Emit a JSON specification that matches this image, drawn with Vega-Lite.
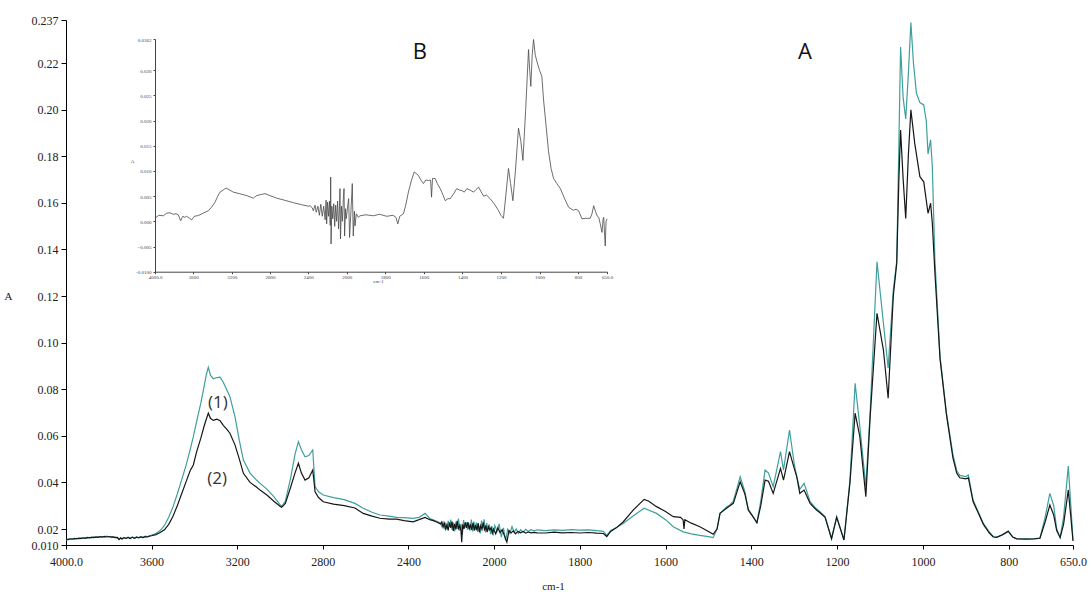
{
  "$schema": "https://vega.github.io/schema/vega-lite/v6.json",
  "width": 1007,
  "height": 525,
  "autosize": {"type": "none"},
  "padding": {"left": 66, "top": 20, "right": 18, "bottom": 47},
  "background": "white",
  "config": {
    "view": {"stroke": null},
    "axis": {"grid": false, "domainColor": "#000", "tickColor": "#000", "labelColor": "#222", "titleColor": "#222", "labelFont": "Liberation Serif", "titleFont": "Liberation Serif", "titleFontWeight": "normal", "labelFlush": false, "labelOverlap": false}
  },
  "datasets": {
    "spectra": [
      {"s":"(1)","wn":4000,"A":0.0132},{"s":"(1)","wn":3990,"A":0.0138},{"s":"(1)","wn":3980,"A":0.0135},{"s":"(1)","wn":3970,"A":0.014},{"s":"(1)","wn":3960,"A":0.0137},{"s":"(1)","wn":3950,"A":0.0142},{"s":"(1)","wn":3940,"A":0.0139},{"s":"(1)","wn":3930,"A":0.0144},{"s":"(1)","wn":3920,"A":0.0141},{"s":"(1)","wn":3910,"A":0.0146},{"s":"(1)","wn":3900,"A":0.0143},{"s":"(1)","wn":3890,"A":0.0148},{"s":"(1)","wn":3880,"A":0.0145},{"s":"(1)","wn":3870,"A":0.015},{"s":"(1)","wn":3860,"A":0.0146},{"s":"(1)","wn":3850,"A":0.0152},{"s":"(1)","wn":3840,"A":0.0148},{"s":"(1)","wn":3830,"A":0.0153},{"s":"(1)","wn":3820,"A":0.0149},{"s":"(1)","wn":3810,"A":0.0155},{"s":"(1)","wn":3800,"A":0.0151},{"s":"(1)","wn":3790,"A":0.0153},{"s":"(1)","wn":3780,"A":0.0149},{"s":"(1)","wn":3770,"A":0.015},{"s":"(1)","wn":3760,"A":0.0145},{"s":"(1)","wn":3752,"A":0.0136},{"s":"(1)","wn":3745,"A":0.0146},{"s":"(1)","wn":3738,"A":0.0139},{"s":"(1)","wn":3730,"A":0.0147},{"s":"(1)","wn":3720,"A":0.014},{"s":"(1)","wn":3710,"A":0.0149},{"s":"(1)","wn":3700,"A":0.0142},{"s":"(1)","wn":3690,"A":0.015},{"s":"(1)","wn":3680,"A":0.0143},{"s":"(1)","wn":3670,"A":0.0151},{"s":"(1)","wn":3660,"A":0.0146},{"s":"(1)","wn":3650,"A":0.0153},{"s":"(1)","wn":3640,"A":0.0147},{"s":"(1)","wn":3630,"A":0.0155},{"s":"(1)","wn":3620,"A":0.0152},{"s":"(1)","wn":3610,"A":0.0158},{"s":"(1)","wn":3600,"A":0.0162},{"s":"(1)","wn":3580,"A":0.0172},{"s":"(1)","wn":3560,"A":0.019},{"s":"(1)","wn":3540,"A":0.0215},{"s":"(1)","wn":3520,"A":0.025},{"s":"(1)","wn":3500,"A":0.0295},{"s":"(1)","wn":3480,"A":0.035},{"s":"(1)","wn":3460,"A":0.041},{"s":"(1)","wn":3440,"A":0.047},{"s":"(1)","wn":3420,"A":0.054},{"s":"(1)","wn":3405,"A":0.0596},{"s":"(1)","wn":3390,"A":0.066},{"s":"(1)","wn":3370,"A":0.074},{"s":"(1)","wn":3355,"A":0.081},{"s":"(1)","wn":3345,"A":0.086},{"s":"(1)","wn":3335,"A":0.0894},{"s":"(1)","wn":3325,"A":0.086},{"s":"(1)","wn":3312,"A":0.0845},{"s":"(1)","wn":3295,"A":0.085},{"s":"(1)","wn":3280,"A":0.0852},{"s":"(1)","wn":3265,"A":0.083},{"s":"(1)","wn":3250,"A":0.08},{"s":"(1)","wn":3234,"A":0.0768},{"s":"(1)","wn":3210,"A":0.068},{"s":"(1)","wn":3190,"A":0.058},{"s":"(1)","wn":3171,"A":0.0496},{"s":"(1)","wn":3140,"A":0.044},{"s":"(1)","wn":3110,"A":0.041},{"s":"(1)","wn":3093,"A":0.0396},{"s":"(1)","wn":3060,"A":0.037},{"s":"(1)","wn":3030,"A":0.034},{"s":"(1)","wn":3000,"A":0.0305},{"s":"(1)","wn":2992,"A":0.0296},{"s":"(1)","wn":2975,"A":0.032},{"s":"(1)","wn":2950,"A":0.042},{"s":"(1)","wn":2930,"A":0.052},{"s":"(1)","wn":2914,"A":0.0575},{"s":"(1)","wn":2900,"A":0.054},{"s":"(1)","wn":2883,"A":0.051},{"s":"(1)","wn":2865,"A":0.0515},{"s":"(1)","wn":2847,"A":0.0539},{"s":"(1)","wn":2836,"A":0.0382},{"s":"(1)","wn":2820,"A":0.036},{"s":"(1)","wn":2798,"A":0.0346},{"s":"(1)","wn":2750,"A":0.0335},{"s":"(1)","wn":2700,"A":0.0326},{"s":"(1)","wn":2650,"A":0.031},{"s":"(1)","wn":2611,"A":0.0289},{"s":"(1)","wn":2570,"A":0.0272},{"s":"(1)","wn":2533,"A":0.026},{"s":"(1)","wn":2490,"A":0.0255},{"s":"(1)","wn":2455,"A":0.025},{"s":"(1)","wn":2420,"A":0.0249},{"s":"(1)","wn":2378,"A":0.0246},{"s":"(1)","wn":2350,"A":0.025},{"s":"(1)","wn":2322,"A":0.0267},{"s":"(1)","wn":2300,"A":0.0245},{"s":"(1)","wn":2284,"A":0.0239},{"s":"(1)","wn":2265,"A":0.0232},
      {"s":"(1)","wn":2250,"A":0.0225},{"s":"(1)","wn":2244,"A":0.0212},{"s":"(1)","wn":2238,"A":0.0228},{"s":"(1)","wn":2232,"A":0.0205},{"s":"(1)","wn":2226,"A":0.0222},{"s":"(1)","wn":2220,"A":0.0198},{"s":"(1)","wn":2214,"A":0.0235},{"s":"(1)","wn":2208,"A":0.021},{"s":"(1)","wn":2202,"A":0.024},{"s":"(1)","wn":2196,"A":0.0195},{"s":"(1)","wn":2190,"A":0.0228},{"s":"(1)","wn":2184,"A":0.0185},{"s":"(1)","wn":2178,"A":0.0232},{"s":"(1)","wn":2172,"A":0.02},{"s":"(1)","wn":2166,"A":0.0245},{"s":"(1)","wn":2160,"A":0.019},{"s":"(1)","wn":2154,"A":0.0222},{"s":"(1)","wn":2148,"A":0.0165},{"s":"(1)","wn":2142,"A":0.0238},{"s":"(1)","wn":2136,"A":0.0205},{"s":"(1)","wn":2130,"A":0.023},{"s":"(1)","wn":2124,"A":0.0196},{"s":"(1)","wn":2118,"A":0.0226},{"s":"(1)","wn":2112,"A":0.019},{"s":"(1)","wn":2106,"A":0.024},{"s":"(1)","wn":2100,"A":0.0185},{"s":"(1)","wn":2094,"A":0.0232},{"s":"(1)","wn":2088,"A":0.0195},{"s":"(1)","wn":2082,"A":0.0228},{"s":"(1)","wn":2076,"A":0.0182},{"s":"(1)","wn":2070,"A":0.0215},{"s":"(1)","wn":2064,"A":0.0172},{"s":"(1)","wn":2058,"A":0.0236},{"s":"(1)","wn":2052,"A":0.0205},{"s":"(1)","wn":2046,"A":0.0242},{"s":"(1)","wn":2040,"A":0.0178},{"s":"(1)","wn":2034,"A":0.0225},{"s":"(1)","wn":2028,"A":0.019},{"s":"(1)","wn":2022,"A":0.022},{"s":"(1)","wn":2016,"A":0.0168},{"s":"(1)","wn":2010,"A":0.0212},{"s":"(1)","wn":2004,"A":0.016},{"s":"(1)","wn":1998,"A":0.0215},{"s":"(1)","wn":1993,"A":0.0185},{"s":"(1)","wn":1988,"A":0.0222},{"s":"(1)","wn":1983,"A":0.015},{"s":"(1)","wn":1978,"A":0.0205},{"s":"(1)","wn":1973,"A":0.0128},{"s":"(1)","wn":1968,"A":0.0198},{"s":"(1)","wn":1963,"A":0.0172},{"s":"(1)","wn":1958,"A":0.021},{"s":"(1)","wn":1953,"A":0.018},{"s":"(1)","wn":1948,"A":0.02},{"s":"(1)","wn":1943,"A":0.0172},{"s":"(1)","wn":1938,"A":0.0195},{"s":"(1)","wn":1932,"A":0.018},{"s":"(1)","wn":1926,"A":0.0198},{"s":"(1)","wn":1920,"A":0.0185},{"s":"(1)","wn":1914,"A":0.0196},{"s":"(1)","wn":1906,"A":0.0188},{"s":"(1)","wn":1900,"A":0.0195},
      {"s":"(1)","wn":1880,"A":0.019},{"s":"(1)","wn":1860,"A":0.0195},{"s":"(1)","wn":1840,"A":0.0192},{"s":"(1)","wn":1820,"A":0.0196},{"s":"(1)","wn":1800,"A":0.0193},{"s":"(1)","wn":1780,"A":0.0195},{"s":"(1)","wn":1760,"A":0.019},{"s":"(1)","wn":1745,"A":0.0185},{"s":"(1)","wn":1737,"A":0.016},{"s":"(1)","wn":1728,"A":0.019},{"s":"(1)","wn":1715,"A":0.0205},{"s":"(1)","wn":1699,"A":0.0224},{"s":"(1)","wn":1675,"A":0.0257},{"s":"(1)","wn":1650,"A":0.0289},{"s":"(1)","wn":1621,"A":0.0267},{"s":"(1)","wn":1600,"A":0.024},{"s":"(1)","wn":1582,"A":0.021},{"s":"(1)","wn":1559,"A":0.0182},{"s":"(1)","wn":1540,"A":0.017},{"s":"(1)","wn":1520,"A":0.016},{"s":"(1)","wn":1500,"A":0.0152},{"s":"(1)","wn":1489,"A":0.0146},{"s":"(1)","wn":1480,"A":0.02},{"s":"(1)","wn":1473,"A":0.0267},{"s":"(1)","wn":1457,"A":0.0296},{"s":"(1)","wn":1450,"A":0.0303},{"s":"(1)","wn":1442,"A":0.032},{"s":"(1)","wn":1426,"A":0.0424},{"s":"(1)","wn":1415,"A":0.036},{"s":"(1)","wn":1407,"A":0.0282},{"s":"(1)","wn":1395,"A":0.025},{"s":"(1)","wn":1387,"A":0.0227},{"s":"(1)","wn":1378,"A":0.032},{"s":"(1)","wn":1368,"A":0.0453},{"s":"(1)","wn":1360,"A":0.044},{"s":"(1)","wn":1349,"A":0.0382},{"s":"(1)","wn":1332,"A":0.0532},{"s":"(1)","wn":1325,"A":0.0453},{"s":"(1)","wn":1311,"A":0.0625},{"s":"(1)","wn":1300,"A":0.048},{"s":"(1)","wn":1294,"A":0.0424},{"s":"(1)","wn":1287,"A":0.037},{"s":"(1)","wn":1277,"A":0.0396},{"s":"(1)","wn":1263,"A":0.0317},{"s":"(1)","wn":1250,"A":0.029},{"s":"(1)","wn":1240,"A":0.0274},{"s":"(1)","wn":1228,"A":0.0253},{"s":"(1)","wn":1213,"A":0.0139},{"s":"(1)","wn":1201,"A":0.0253},{"s":"(1)","wn":1184,"A":0.0131},{"s":"(1)","wn":1170,"A":0.041},{"s":"(1)","wn":1158,"A":0.0825},{"s":"(1)","wn":1147,"A":0.0639},{"s":"(1)","wn":1133,"A":0.0382},{"s":"(1)","wn":1123,"A":0.07},{"s":"(1)","wn":1107,"A":0.1347},{"s":"(1)","wn":1092,"A":0.1083},{"s":"(1)","wn":1081,"A":0.089},{"s":"(1)","wn":1069,"A":0.1226},{"s":"(1)","wn":1061,"A":0.135},{"s":"(1)","wn":1056,"A":0.185},{"s":"(1)","wn":1052,"A":0.2263},{"s":"(1)","wn":1046,"A":0.205},{"s":"(1)","wn":1040,"A":0.196},{"s":"(1)","wn":1034,"A":0.215},{"s":"(1)","wn":1028,"A":0.236},{"s":"(1)","wn":1022,"A":0.22},{"s":"(1)","wn":1015,"A":0.207},{"s":"(1)","wn":1007,"A":0.203},{"s":"(1)","wn":998,"A":0.202},{"s":"(1)","wn":992,"A":0.195},{"s":"(1)","wn":988,"A":0.181},{"s":"(1)","wn":982,"A":0.187},{"s":"(1)","wn":978,"A":0.1755},{"s":"(1)","wn":972,"A":0.1355},{"s":"(1)","wn":960,"A":0.094},{"s":"(1)","wn":945,"A":0.0697},{"s":"(1)","wn":930,"A":0.052},{"s":"(1)","wn":921,"A":0.045},{"s":"(1)","wn":914,"A":0.043},{"s":"(1)","wn":900,"A":0.0425},{"s":"(1)","wn":894,"A":0.0432},{"s":"(1)","wn":883,"A":0.0324},{"s":"(1)","wn":870,"A":0.027},{"s":"(1)","wn":859,"A":0.0224},{"s":"(1)","wn":845,"A":0.018},{"s":"(1)","wn":836,"A":0.0153},{"s":"(1)","wn":828,"A":0.015},{"s":"(1)","wn":815,"A":0.0165},{"s":"(1)","wn":801,"A":0.0188},{"s":"(1)","wn":790,"A":0.015},{"s":"(1)","wn":781,"A":0.0139},{"s":"(1)","wn":760,"A":0.0138},{"s":"(1)","wn":740,"A":0.0139},{"s":"(1)","wn":727,"A":0.0145},{"s":"(1)","wn":715,"A":0.025},{"s":"(1)","wn":704,"A":0.0353},{"s":"(1)","wn":695,"A":0.03},{"s":"(1)","wn":688,"A":0.02},{"s":"(1)","wn":680,"A":0.0146},{"s":"(1)","wn":672,"A":0.025},{"s":"(1)","wn":661,"A":0.047},{"s":"(1)","wn":655,"A":0.03},{"s":"(1)","wn":650,"A":0.013},
      {"s":"(2)","wn":4000,"A":0.0135},{"s":"(2)","wn":3990,"A":0.0133},{"s":"(2)","wn":3980,"A":0.0139},{"s":"(2)","wn":3970,"A":0.0136},{"s":"(2)","wn":3960,"A":0.0141},{"s":"(2)","wn":3950,"A":0.0138},{"s":"(2)","wn":3940,"A":0.0143},{"s":"(2)","wn":3930,"A":0.014},{"s":"(2)","wn":3920,"A":0.0145},{"s":"(2)","wn":3910,"A":0.0142},{"s":"(2)","wn":3900,"A":0.0147},{"s":"(2)","wn":3890,"A":0.0144},{"s":"(2)","wn":3880,"A":0.0149},{"s":"(2)","wn":3870,"A":0.0146},{"s":"(2)","wn":3860,"A":0.0151},{"s":"(2)","wn":3850,"A":0.0148},{"s":"(2)","wn":3840,"A":0.0153},{"s":"(2)","wn":3830,"A":0.0149},{"s":"(2)","wn":3820,"A":0.0154},{"s":"(2)","wn":3810,"A":0.015},{"s":"(2)","wn":3800,"A":0.0153},{"s":"(2)","wn":3790,"A":0.0149},{"s":"(2)","wn":3780,"A":0.0151},{"s":"(2)","wn":3770,"A":0.0146},{"s":"(2)","wn":3760,"A":0.0148},{"s":"(2)","wn":3752,"A":0.0134},{"s":"(2)","wn":3745,"A":0.0143},{"s":"(2)","wn":3738,"A":0.0137},{"s":"(2)","wn":3730,"A":0.0145},{"s":"(2)","wn":3720,"A":0.0141},{"s":"(2)","wn":3710,"A":0.0147},{"s":"(2)","wn":3700,"A":0.014},{"s":"(2)","wn":3690,"A":0.0148},{"s":"(2)","wn":3680,"A":0.0142},{"s":"(2)","wn":3670,"A":0.0149},{"s":"(2)","wn":3660,"A":0.0144},{"s":"(2)","wn":3650,"A":0.0151},{"s":"(2)","wn":3640,"A":0.0146},{"s":"(2)","wn":3630,"A":0.0152},{"s":"(2)","wn":3620,"A":0.015},{"s":"(2)","wn":3610,"A":0.0155},{"s":"(2)","wn":3600,"A":0.0158},{"s":"(2)","wn":3580,"A":0.0165},{"s":"(2)","wn":3560,"A":0.0178},{"s":"(2)","wn":3540,"A":0.0195},{"s":"(2)","wn":3520,"A":0.022},{"s":"(2)","wn":3500,"A":0.0255},{"s":"(2)","wn":3480,"A":0.03},{"s":"(2)","wn":3460,"A":0.035},{"s":"(2)","wn":3440,"A":0.04},{"s":"(2)","wn":3420,"A":0.045},{"s":"(2)","wn":3405,"A":0.0475},{"s":"(2)","wn":3390,"A":0.053},{"s":"(2)","wn":3370,"A":0.059},{"s":"(2)","wn":3355,"A":0.064},{"s":"(2)","wn":3345,"A":0.067},{"s":"(2)","wn":3335,"A":0.0697},{"s":"(2)","wn":3325,"A":0.0675},{"s":"(2)","wn":3312,"A":0.0666},{"s":"(2)","wn":3295,"A":0.0671},{"s":"(2)","wn":3280,"A":0.0665},{"s":"(2)","wn":3265,"A":0.0645},{"s":"(2)","wn":3250,"A":0.063},{"s":"(2)","wn":3234,"A":0.0611},{"s":"(2)","wn":3210,"A":0.056},{"s":"(2)","wn":3190,"A":0.05},{"s":"(2)","wn":3171,"A":0.0439},{"s":"(2)","wn":3140,"A":0.04},{"s":"(2)","wn":3110,"A":0.038},{"s":"(2)","wn":3093,"A":0.0367},{"s":"(2)","wn":3060,"A":0.0345},{"s":"(2)","wn":3030,"A":0.032},{"s":"(2)","wn":3000,"A":0.0298},{"s":"(2)","wn":2992,"A":0.0293},{"s":"(2)","wn":2975,"A":0.031},{"s":"(2)","wn":2950,"A":0.038},{"s":"(2)","wn":2930,"A":0.044},{"s":"(2)","wn":2914,"A":0.0482},{"s":"(2)","wn":2900,"A":0.044},{"s":"(2)","wn":2883,"A":0.041},{"s":"(2)","wn":2865,"A":0.042},{"s":"(2)","wn":2847,"A":0.0453},{"s":"(2)","wn":2836,"A":0.036},{"s":"(2)","wn":2820,"A":0.0335},{"s":"(2)","wn":2798,"A":0.0317},{"s":"(2)","wn":2750,"A":0.0307},{"s":"(2)","wn":2700,"A":0.03},{"s":"(2)","wn":2650,"A":0.029},{"s":"(2)","wn":2611,"A":0.0267},{"s":"(2)","wn":2570,"A":0.0255},{"s":"(2)","wn":2533,"A":0.0246},{"s":"(2)","wn":2490,"A":0.0242},{"s":"(2)","wn":2455,"A":0.0242},{"s":"(2)","wn":2420,"A":0.0236},{"s":"(2)","wn":2378,"A":0.0231},{"s":"(2)","wn":2350,"A":0.024},{"s":"(2)","wn":2322,"A":0.025},{"s":"(2)","wn":2300,"A":0.024},{"s":"(2)","wn":2284,"A":0.0236},{"s":"(2)","wn":2265,"A":0.0229},
      {"s":"(2)","wn":2250,"A":0.0222},{"s":"(2)","wn":2244,"A":0.023},{"s":"(2)","wn":2238,"A":0.0208},{"s":"(2)","wn":2232,"A":0.0225},{"s":"(2)","wn":2226,"A":0.02},{"s":"(2)","wn":2220,"A":0.0218},{"s":"(2)","wn":2214,"A":0.0192},{"s":"(2)","wn":2208,"A":0.0228},{"s":"(2)","wn":2202,"A":0.0205},{"s":"(2)","wn":2196,"A":0.0232},{"s":"(2)","wn":2190,"A":0.0188},{"s":"(2)","wn":2184,"A":0.0222},{"s":"(2)","wn":2178,"A":0.0198},{"s":"(2)","wn":2172,"A":0.0235},{"s":"(2)","wn":2166,"A":0.0202},{"s":"(2)","wn":2160,"A":0.0215},{"s":"(2)","wn":2154,"A":0.0185},{"s":"(2)","wn":2151,"A":0.0118},{"s":"(2)","wn":2146,"A":0.022},{"s":"(2)","wn":2140,"A":0.02},{"s":"(2)","wn":2134,"A":0.0228},{"s":"(2)","wn":2128,"A":0.0205},{"s":"(2)","wn":2122,"A":0.023},{"s":"(2)","wn":2116,"A":0.0198},{"s":"(2)","wn":2110,"A":0.022},{"s":"(2)","wn":2104,"A":0.0195},{"s":"(2)","wn":2098,"A":0.0226},{"s":"(2)","wn":2092,"A":0.019},{"s":"(2)","wn":2086,"A":0.0218},{"s":"(2)","wn":2080,"A":0.0192},{"s":"(2)","wn":2074,"A":0.0225},{"s":"(2)","wn":2068,"A":0.018},{"s":"(2)","wn":2062,"A":0.0215},{"s":"(2)","wn":2056,"A":0.0198},{"s":"(2)","wn":2050,"A":0.0228},{"s":"(2)","wn":2044,"A":0.019},{"s":"(2)","wn":2038,"A":0.0215},{"s":"(2)","wn":2032,"A":0.018},{"s":"(2)","wn":2026,"A":0.021},{"s":"(2)","wn":2020,"A":0.0195},{"s":"(2)","wn":2014,"A":0.0205},{"s":"(2)","wn":2008,"A":0.0175},{"s":"(2)","wn":2002,"A":0.02},{"s":"(2)","wn":1996,"A":0.017},{"s":"(2)","wn":1991,"A":0.0205},{"s":"(2)","wn":1986,"A":0.0178},{"s":"(2)","wn":1981,"A":0.0195},{"s":"(2)","wn":1976,"A":0.016},{"s":"(2)","wn":1970,"A":0.0118},{"s":"(2)","wn":1965,"A":0.019},{"s":"(2)","wn":1960,"A":0.0175},{"s":"(2)","wn":1955,"A":0.0188},{"s":"(2)","wn":1950,"A":0.017},{"s":"(2)","wn":1944,"A":0.0185},{"s":"(2)","wn":1938,"A":0.0176},{"s":"(2)","wn":1932,"A":0.0184},{"s":"(2)","wn":1926,"A":0.0174},{"s":"(2)","wn":1920,"A":0.0181},{"s":"(2)","wn":1914,"A":0.0176},{"s":"(2)","wn":1906,"A":0.0179},{"s":"(2)","wn":1900,"A":0.0176},
      {"s":"(2)","wn":1880,"A":0.0175},{"s":"(2)","wn":1860,"A":0.018},{"s":"(2)","wn":1840,"A":0.0176},{"s":"(2)","wn":1820,"A":0.0178},{"s":"(2)","wn":1800,"A":0.0175},{"s":"(2)","wn":1780,"A":0.0178},{"s":"(2)","wn":1760,"A":0.0174},{"s":"(2)","wn":1745,"A":0.0172},{"s":"(2)","wn":1737,"A":0.0153},{"s":"(2)","wn":1728,"A":0.0185},{"s":"(2)","wn":1715,"A":0.0205},{"s":"(2)","wn":1699,"A":0.023},{"s":"(2)","wn":1675,"A":0.0282},{"s":"(2)","wn":1650,"A":0.0327},{"s":"(2)","wn":1640,"A":0.032},{"s":"(2)","wn":1621,"A":0.0296},{"s":"(2)","wn":1600,"A":0.0275},{"s":"(2)","wn":1582,"A":0.0253},{"s":"(2)","wn":1565,"A":0.025},{"s":"(2)","wn":1559,"A":0.0239},{"s":"(2)","wn":1557,"A":0.02},{"s":"(2)","wn":1555,"A":0.024},{"s":"(2)","wn":1540,"A":0.0225},{"s":"(2)","wn":1520,"A":0.021},{"s":"(2)","wn":1500,"A":0.0185},{"s":"(2)","wn":1489,"A":0.0167},{"s":"(2)","wn":1480,"A":0.02},{"s":"(2)","wn":1473,"A":0.0267},{"s":"(2)","wn":1457,"A":0.029},{"s":"(2)","wn":1450,"A":0.03},{"s":"(2)","wn":1442,"A":0.031},{"s":"(2)","wn":1426,"A":0.0403},{"s":"(2)","wn":1415,"A":0.035},{"s":"(2)","wn":1407,"A":0.0282},{"s":"(2)","wn":1395,"A":0.025},{"s":"(2)","wn":1387,"A":0.0227},{"s":"(2)","wn":1378,"A":0.03},{"s":"(2)","wn":1368,"A":0.041},{"s":"(2)","wn":1360,"A":0.0405},{"s":"(2)","wn":1349,"A":0.0353},{"s":"(2)","wn":1332,"A":0.046},{"s":"(2)","wn":1325,"A":0.041},{"s":"(2)","wn":1311,"A":0.0532},{"s":"(2)","wn":1300,"A":0.046},{"s":"(2)","wn":1294,"A":0.0424},{"s":"(2)","wn":1287,"A":0.0353},{"s":"(2)","wn":1277,"A":0.0367},{"s":"(2)","wn":1263,"A":0.031},{"s":"(2)","wn":1250,"A":0.0285},{"s":"(2)","wn":1240,"A":0.027},{"s":"(2)","wn":1228,"A":0.025},{"s":"(2)","wn":1213,"A":0.0139},{"s":"(2)","wn":1201,"A":0.025},{"s":"(2)","wn":1184,"A":0.0131},{"s":"(2)","wn":1170,"A":0.04},{"s":"(2)","wn":1158,"A":0.0697},{"s":"(2)","wn":1147,"A":0.0596},{"s":"(2)","wn":1133,"A":0.0339},{"s":"(2)","wn":1123,"A":0.068},{"s":"(2)","wn":1107,"A":0.1126},{"s":"(2)","wn":1092,"A":0.0968},{"s":"(2)","wn":1081,"A":0.0761},{"s":"(2)","wn":1069,"A":0.12},{"s":"(2)","wn":1061,"A":0.134},{"s":"(2)","wn":1056,"A":0.17},{"s":"(2)","wn":1052,"A":0.1912},{"s":"(2)","wn":1046,"A":0.17},{"s":"(2)","wn":1040,"A":0.1533},{"s":"(2)","wn":1034,"A":0.18},{"s":"(2)","wn":1028,"A":0.1999},{"s":"(2)","wn":1019,"A":0.1855},{"s":"(2)","wn":1007,"A":0.1712},{"s":"(2)","wn":998,"A":0.169},{"s":"(2)","wn":988,"A":0.1555},{"s":"(2)","wn":982,"A":0.1598},{"s":"(2)","wn":978,"A":0.1512},{"s":"(2)","wn":972,"A":0.13},{"s":"(2)","wn":960,"A":0.093},{"s":"(2)","wn":945,"A":0.069},{"s":"(2)","wn":930,"A":0.0505},{"s":"(2)","wn":921,"A":0.0439},{"s":"(2)","wn":914,"A":0.042},{"s":"(2)","wn":900,"A":0.0415},{"s":"(2)","wn":894,"A":0.042},{"s":"(2)","wn":883,"A":0.0318},{"s":"(2)","wn":870,"A":0.0265},{"s":"(2)","wn":859,"A":0.022},{"s":"(2)","wn":845,"A":0.0175},{"s":"(2)","wn":836,"A":0.015},{"s":"(2)","wn":828,"A":0.0148},{"s":"(2)","wn":815,"A":0.0162},{"s":"(2)","wn":801,"A":0.0185},{"s":"(2)","wn":790,"A":0.0148},{"s":"(2)","wn":781,"A":0.0138},{"s":"(2)","wn":760,"A":0.0137},{"s":"(2)","wn":740,"A":0.0138},{"s":"(2)","wn":727,"A":0.0142},{"s":"(2)","wn":715,"A":0.023},{"s":"(2)","wn":704,"A":0.0303},{"s":"(2)","wn":695,"A":0.026},{"s":"(2)","wn":688,"A":0.019},{"s":"(2)","wn":680,"A":0.0146},{"s":"(2)","wn":672,"A":0.022},{"s":"(2)","wn":661,"A":0.0367},{"s":"(2)","wn":655,"A":0.025},{"s":"(2)","wn":650,"A":0.0125}
    ],
    "inset": [
      {"wn":4000,"A":0.0006},{"wn":3960,"A":0.0012},{"wn":3913,"A":0.0011},{"wn":3880,"A":0.0016},{"wn":3843,"A":0.0017},{"wn":3810,"A":0.0014},{"wn":3780,"A":0.0015},{"wn":3757,"A":0.0013},{"wn":3732,"A":0.0001},{"wn":3710,"A":0.001},{"wn":3690,"A":0.0008},{"wn":3670,"A":0.001},{"wn":3640,"A":0.0006},{"wn":3617,"A":0.0003},{"wn":3590,"A":0.001},{"wn":3560,"A":0.0011},{"wn":3530,"A":0.0013},{"wn":3490,"A":0.0017},{"wn":3443,"A":0.0021},{"wn":3410,"A":0.0028},{"wn":3374,"A":0.0038},{"wn":3345,"A":0.005},{"wn":3322,"A":0.0058},{"wn":3290,"A":0.0062},{"wn":3259,"A":0.0066},{"wn":3220,"A":0.0062},{"wn":3183,"A":0.0058},{"wn":3120,"A":0.0055},{"wn":3080,"A":0.0053},{"wn":3043,"A":0.0051},{"wn":3000,"A":0.0048},{"wn":2974,"A":0.0046},{"wn":2955,"A":0.0049},{"wn":2939,"A":0.0051},{"wn":2900,"A":0.0053},{"wn":2852,"A":0.0055},{"wn":2800,"A":0.0051},{"wn":2730,"A":0.0046},{"wn":2650,"A":0.0042},{"wn":2557,"A":0.0037},{"wn":2470,"A":0.0033},{"wn":2400,"A":0.003},{"wn":2383,"A":0.0031},{"wn":2360,"A":0.0027},{"wn":2348,"A":0.0021},{"wn":2330,"A":0.0032},{"wn":2318,"A":0.0018},{"wn":2300,"A":0.003},{"wn":2285,"A":0.0012},{"wn":2270,"A":0.0034},{"wn":2255,"A":0.001},{"wn":2240,"A":0.003},{"wn":2225,"A":0.0003},{"wn":2215,"A":0.0042},{"wn":2209,"A":-0.0005},{"wn":2200,"A":0.0038},{"wn":2190,"A":0.001},{"wn":2180,"A":0.004},{"wn":2172,"A":-0.0008},{"wn":2167,"A":0.0088},{"wn":2163,"A":-0.0045},{"wn":2155,"A":0.003},{"wn":2145,"A":0.0005},{"wn":2135,"A":0.0035},{"wn":2125,"A":-0.001},{"wn":2115,"A":0.0032},{"wn":2105,"A":0.0},{"wn":2095,"A":0.004},{"wn":2085,"A":-0.0015},{"wn":2075,"A":0.003},{"wn":2070,"A":0.0065},{"wn":2065,"A":-0.0035},{"wn":2055,"A":0.003},{"wn":2045,"A":0.0},{"wn":2035,"A":0.0045},{"wn":2028,"A":0.0065},{"wn":2022,"A":-0.0029},{"wn":2012,"A":0.0025},{"wn":2005,"A":0.0005},{"wn":1995,"A":0.003},{"wn":1990,"A":0.0045},{"wn":1985,"A":-0.0032},{"wn":1978,"A":0.002},{"wn":1971,"A":0.0075},{"wn":1966,"A":-0.0029},{"wn":1960,"A":0.002},{"wn":1957,"A":-0.0009},{"wn":1950,"A":0.0015},{"wn":1940,"A":0.0008},{"wn":1931,"A":0.0011},{"wn":1900,"A":0.0013},{"wn":1862,"A":0.0011},{"wn":1830,"A":0.0014},{"wn":1792,"A":0.001},{"wn":1760,"A":0.0012},{"wn":1745,"A":0.0008},{"wn":1735,"A":-0.0005},{"wn":1725,"A":0.001},{"wn":1706,"A":0.0015},{"wn":1695,"A":0.003},{"wn":1680,"A":0.0058},{"wn":1665,"A":0.008},{"wn":1650,"A":0.0098},{"wn":1640,"A":0.0095},{"wn":1628,"A":0.0091},{"wn":1615,"A":0.0082},{"wn":1602,"A":0.0075},{"wn":1590,"A":0.0082},{"wn":1576,"A":0.0081},{"wn":1565,"A":0.0082},{"wn":1560,"A":0.0048},{"wn":1555,"A":0.0085},{"wn":1541,"A":0.0085},{"wn":1530,"A":0.0075},{"wn":1515,"A":0.0065},{"wn":1500,"A":0.0052},{"wn":1489,"A":0.0041},{"wn":1475,"A":0.0045},{"wn":1463,"A":0.0045},{"wn":1445,"A":0.0055},{"wn":1429,"A":0.0065},{"wn":1415,"A":0.0062},{"wn":1403,"A":0.0061},{"wn":1390,"A":0.0058},{"wn":1377,"A":0.0065},{"wn":1360,"A":0.0062},{"wn":1342,"A":0.0058},{"wn":1330,"A":0.0063},{"wn":1316,"A":0.0068},{"wn":1305,"A":0.006},{"wn":1290,"A":0.005},{"wn":1275,"A":0.0052},{"wn":1256,"A":0.0045},{"wn":1235,"A":0.0035},{"wn":1212,"A":0.0021},{"wn":1200,"A":0.0012},{"wn":1187,"A":0.0006},{"wn":1175,"A":0.005},{"wn":1161,"A":0.0105},{"wn":1150,"A":0.0075},{"wn":1138,"A":0.0041},{"wn":1125,"A":0.01},{"wn":1109,"A":0.0185},{"wn":1097,"A":0.016},{"wn":1086,"A":0.0121},{"wn":1072,"A":0.022},{"wn":1057,"A":0.0341},{"wn":1051,"A":0.03},{"wn":1045,"A":0.0268},{"wn":1038,"A":0.033},{"wn":1031,"A":0.0361},{"wn":1022,"A":0.033},{"wn":1014,"A":0.0318},{"wn":1000,"A":0.03},{"wn":988,"A":0.0288},{"wn":979,"A":0.0241},{"wn":966,"A":0.019},{"wn":953,"A":0.0138},{"wn":940,"A":0.0105},{"wn":927,"A":0.0085},{"wn":910,"A":0.0075},{"wn":892,"A":0.0065},{"wn":870,"A":0.0045},{"wn":849,"A":0.0028},{"wn":825,"A":0.0022},{"wn":810,"A":0.0024},{"wn":797,"A":0.0021},{"wn":780,"A":0.0005},{"wn":760,"A":0.0006},{"wn":737,"A":0.0006},{"wn":728,"A":0.0015},{"wn":719,"A":0.0031},{"wn":710,"A":0.002},{"wn":700,"A":0.001},{"wn":693,"A":0.0008},{"wn":685,"A":-0.0005},{"wn":676,"A":-0.0022},{"wn":670,"A":0.0005},{"wn":667,"A":0.0008},{"wn":662,"A":-0.003},{"wn":659,"A":-0.0049},{"wn":655,"A":0.0},{"wn":650,"A":0.0005}
    ],
    "bigLabels": [
      {"wn": 2346, "A": 0.2243, "label": "B"},
      {"wn": 1275, "A": 0.2243, "label": "A"}
    ],
    "curveLabels": [
      {"wn": 3290, "A": 0.0741, "label": "(1)"},
      {"wn": 3294, "A": 0.0415, "label": "(2)"}
    ]
  },
  "layer": [
    {
      "layer": [
        {
          "data": {"name": "spectra"},
          "mark": {"type": "line", "strokeWidth": 1.2},
          "encoding": {
            "x": {
              "field": "wn", "type": "quantitative",
              "scale": {"domain": [4000, 2000, 650], "range": [0, 428, 1007], "nice": false, "zero": false},
              "axis": {
                "values": [4000, 3600, 3200, 2800, 2400, 2000, 1800, 1600, 1400, 1200, 1000, 800, 650],
                "labelExpr": "datum.value == 4000 ? '4000.0' : datum.value == 650 ? '650.0' : format(datum.value, 'd')",
                "labelFontSize": 12, "labelPadding": 7, "tickSize": 4,
                "title": "cm-1", "titleFontSize": 11, "titleX": 487, "titleY": 46, "titleAnchor": "middle", "titleBaseline": "bottom"
              }
            },
            "y": {
              "field": "A", "type": "quantitative",
              "scale": {"domain": [0.01, 0.02, 0.22, 0.237], "range": [525, 509, 43, 0], "nice": false, "zero": false},
              "axis": {
                "values": [0.01, 0.02, 0.04, 0.06, 0.08, 0.1, 0.12, 0.14, 0.16, 0.18, 0.2, 0.22, 0.237],
                "labelExpr": "datum.value == 0.237 ? '0.237' : datum.value == 0.01 ? '0.010' : format(datum.value, '.2f')",
                "labelFontSize": 12, "labelPadding": 3, "tickSize": 5,
                "title": "A", "titleAngle": 0, "titleFontSize": 11, "titleX": -58, "titleY": 276, "titleAlign": "center", "titleBaseline": "middle"
              }
            },
            "color": {"field": "s", "type": "nominal", "scale": {"domain": ["(1)", "(2)"], "range": ["#3f9f9d", "#161616"]}, "legend": null}
          }
        },
        {
          "data": {"name": "bigLabels"},
          "mark": {"type": "text", "font": "Open Sans", "fontSize": 22, "color": "#111", "align": "center", "baseline": "middle"},
          "encoding": {
            "x": {"field": "wn", "type": "quantitative", "title": "cm-1"},
            "y": {"field": "A", "type": "quantitative", "title": "A"},
            "text": {"field": "label"}
          }
        },
        {
          "data": {"name": "curveLabels"},
          "mark": {"type": "text", "font": "Open Sans", "fontSize": 17, "color": "#333", "align": "center", "baseline": "middle"},
          "encoding": {
            "x": {"field": "wn", "type": "quantitative", "title": "cm-1"},
            "y": {"field": "A", "type": "quantitative", "title": "A"},
            "text": {"field": "label"}
          }
        }
      ]
    },
    {
      "data": {"name": "inset"},
      "mark": {"type": "line", "strokeWidth": 0.8, "color": "#474747"},
      "encoding": {
        "x": {
          "field": "wn", "type": "quantitative",
          "scale": {"domain": [4000, 2000, 650], "range": [89, 280.7, 541], "nice": false, "zero": false},
          "axis": {
            "orient": "bottom", "offset": -273.3,
            "values": [4000, 3600, 3200, 2800, 2400, 2000, 1800, 1600, 1400, 1200, 1000, 800, 650],
            "labelExpr": "datum.value == 4000 ? '4000.0' : datum.value == 650 ? '650.0' : format(datum.value, 'd')",
            "labelFontSize": 5, "labelPadding": 1, "tickSize": 2, "labelColor": "#444", "domainColor": "#444", "tickColor": "#444",
            "title": "cm-1", "titleFontSize": 5, "titleColor": "#444", "titleX": 312, "titleY": 12, "titleBaseline": "bottom"
          }
        },
        "y": {
          "field": "A", "type": "quantitative",
          "scale": {"domain": [-0.01, 0.0362], "range": [251.7, 19], "nice": false, "zero": false},
          "axis": {
            "orient": "left", "offset": -89,
            "values": [-0.01, -0.005, 0, 0.005, 0.01, 0.015, 0.02, 0.025, 0.03, 0.0362],
            "labelExpr": "datum.value == 0.0362 ? '0.0362' : datum.value == -0.01 ? '-0.0100' : format(datum.value, '.3f')",
            "labelFontSize": 5, "labelPadding": 2, "tickSize": 2, "labelColor": "#444", "domainColor": "#444", "tickColor": "#444",
            "title": "A", "titleAngle": 0, "titleFontSize": 5, "titleColor": "#444", "titleX": -23, "titleY": 140, "titleAlign": "center", "titleBaseline": "middle"
          }
        }
      }
    }
  ],
  "resolve": {"scale": {"x": "independent", "y": "independent"}}
}
